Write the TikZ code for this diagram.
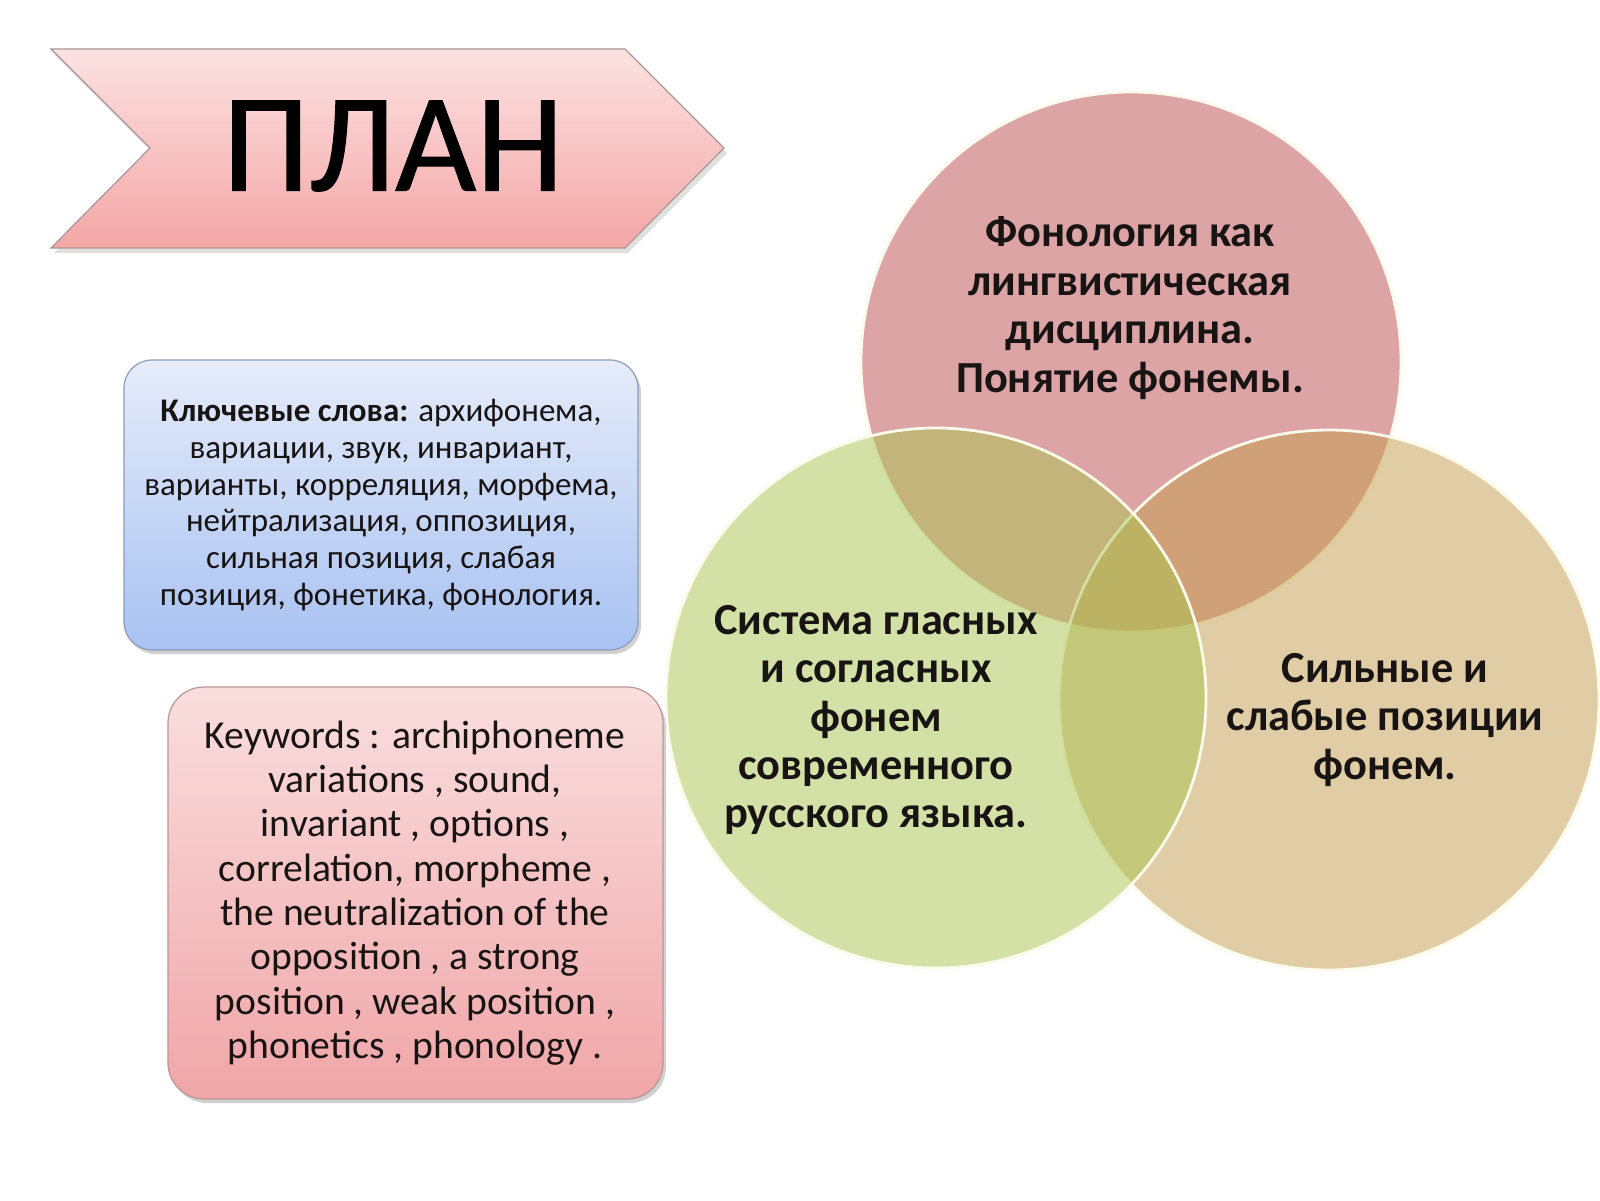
\documentclass[tikz,border=0pt]{standalone}
\usepackage{fontspec}
\setmainfont{Carlito}
\newfontfamily\planfont[FakeBold=0.8]{Carlito}
\usetikzlibrary{shadows}
\definecolor{txt}{RGB}{25,20,20}
\definecolor{chevtop}{RGB}{252,226,226}
\definecolor{chevbot}{RGB}{244,166,166}
\definecolor{chevline}{RGB}{170,150,150}
\definecolor{bluetop}{RGB}{230,236,250}
\definecolor{bluebot}{RGB}{168,194,242}
\definecolor{blueline}{RGB}{140,155,185}
\definecolor{pinktop}{RGB}{250,222,222}
\definecolor{pinkbot}{RGB}{240,166,168}
\definecolor{pinkline}{RGB}{185,150,150}
\definecolor{cpink}{RGB}{187,75,77}
\definecolor{ctan}{RGB}{197,157,77}
\definecolor{cgreen}{RGB}{169,197,81}
\definecolor{rim}{RGB}{252,250,235}
\begin{document}
\begin{tikzpicture}[x=0.5pt,y=-0.5pt,
  kwbox/.style={rounded corners=14pt, line width=0.6pt},
  venn/.style={circle, minimum size=270pt, inner sep=0pt, fill opacity=0.5, draw opacity=1, draw=rim, line width=1.4pt},
  venntext/.style={align=center, text=txt, font=\fontsize{22.2}{24.2}\selectfont\bfseries},
  shad/.style={drop shadow={shadow xshift=1.5pt, shadow yshift=-2pt, opacity=0.18, fill=black}}
]
\fill[white] (0,0) rectangle (1600,1200);
\useasboundingbox (0,0) rectangle (1600,1200);

% chevron
\coordinate (c1) at (51,49);
\coordinate (c2) at (625,49);
\coordinate (c3) at (724,148);
\coordinate (c4) at (625,248);
\coordinate (c5) at (51,248);
\coordinate (c6) at (150,148);
\fill[black, opacity=0.12] ([shift={(3,5)}]c1) -- ([shift={(3,5)}]c2) -- ([shift={(3,5)}]c3) -- ([shift={(3,5)}]c4) -- ([shift={(3,5)}]c5) -- ([shift={(3,5)}]c6) -- cycle;
\shade[top color=chevtop, bottom color=chevbot] (c1) -- (c2) -- (c3) -- (c4) -- (c5) -- (c6) -- cycle;
\draw[chevline, line width=0.6pt, line join=miter] (c1) -- (c2) -- (c3) -- (c4) -- (c5) -- (c6) -- cycle;
\node[text=black, font=\planfont\fontsize{70}{70}\selectfont] (plan) at (393,146) {ПЛАН};

% blue keyword box
\node[kwbox, shad, draw=blueline, top color=bluetop, bottom color=bluebot,
      minimum width=257pt, minimum height=145pt] (bluebox) at (381,505) {};
\node[align=center, text=txt, font=\fontsize{16.5}{18.35}\selectfont] (bluetext) at (381,505)
 {\textbf{Ключевые слова:} архифонема,\\вариации, звук, инвариант,\\варианты, корреляция, морфема,\\нейтрализация, оппозиция,\\сильная позиция, слабая\\позиция, фонетика, фонология.};

% pink keyword box
\node[kwbox, shad, rounded corners=18pt, draw=pinkline, top color=pinktop, bottom color=pinkbot,
      minimum width=247.5pt, minimum height=206pt] (pinkbox) at (415.5,893) {};
\node[align=center, text=txt, font=\fontsize{19.8}{22.15}\selectfont] (pinktext) at (415,893)
 {Keywords : archiphoneme\\variations , sound,\\invariant , options ,\\correlation, morpheme ,\\the neutralization of the\\opposition , a strong\\position , weak position ,\\phonetics , phonology .};

% Venn circles
\node[venn, fill=cpink] (cp) at (1131,362) {};
\node[venn, fill=ctan] (ct) at (1329,700) {};
\node[venn, fill=cgreen] (cg) at (936,698) {};

\node[venntext] (tp) at (1130,308) {Фонология как\\лингвистическая\\дисциплина.\\Понятие фонемы.};
\node[venntext] (tg) at (876,720) {Система гласных\\и согласных\\фонем\\современного\\русского языка.};
\node[venntext] (tt) at (1385,720) {Сильные и\\слабые позиции\\фонем.};
\end{tikzpicture}
\end{document}
